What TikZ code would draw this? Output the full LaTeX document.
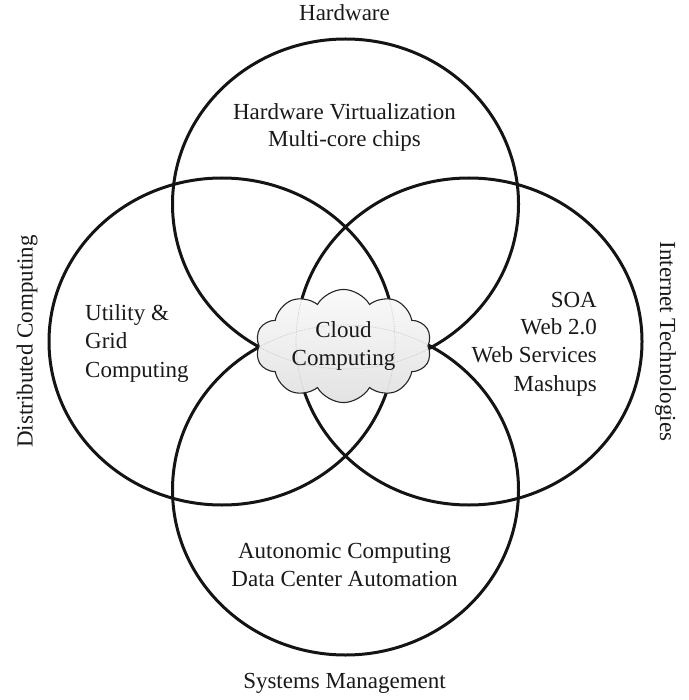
\documentclass[tikz,border=0pt]{standalone}
\usepackage{fontspec}
\setmainfont{Liberation Serif}
\usetikzlibrary{shapes.symbols}
\begin{document}
\begin{tikzpicture}[x=1pt,y=-1pt,
  ring/.style={draw=black!92, line width=3pt},
  faint/.style={draw=gray!45, densely dotted, line width=0.7pt},
  lbl/.style={font=\fontsize{23}{28}\selectfont, text=black!90, inner sep=0pt, anchor=base},
  cloudbox/.style={shape=cloud, cloud puffs=10, cloud puff arc=120, aspect=1.6,
    draw=black!85, line width=1.1pt, top color=gray!4, bottom color=gray!22,
    inner sep=0pt, minimum width=176, minimum height=110, align=center,
    font=\fontsize{23}{28}\selectfont, text=black!90},
]
\useasboundingbox (0,0) rectangle (688,700);
\coordinate (ct) at (345.5,204);
\coordinate (cb) at (345.5,490);
\coordinate (cl) at (222,341.5);
\coordinate (cr) at (469,341.5);
\draw[ring] (ct) ellipse [x radius=173, y radius=165];
\draw[ring] (cb) ellipse [x radius=173, y radius=165];
\draw[ring] (cl) ellipse [x radius=173, y radius=163.5];
\draw[ring] (cr) ellipse [x radius=173, y radius=163.5];
\node[cloudbox, path picture={
    \draw[faint] (ct) ellipse [x radius=173, y radius=165];
    \draw[faint] (cb) ellipse [x radius=173, y radius=165];
    \draw[faint] (cl) ellipse [x radius=173, y radius=163.5];
    \draw[faint] (cr) ellipse [x radius=173, y radius=163.5];
  }] (cloud) at (343.5,346) {Cloud\\Computing};
\node[lbl] (hw) at (344.5,21) {Hardware};
\node[lbl] (hv1) at (344.5,120) {Hardware Virtualization};
\node[lbl] (hv2) at (344.5,147) {Multi-core chips};
\node[lbl] (ac1) at (344.5,558) {Autonomic Computing};
\node[lbl] (ac2) at (344.5,586) {Data Center Automation};
\node[lbl] (sm) at (344.5,688) {Systems Management};
\node[lbl, anchor=base west] (ug1) at (85,320) {Utility \&};
\node[lbl, anchor=base west] (ug2) at (85,348.5) {Grid};
\node[lbl, anchor=base west] (ug3) at (85,377) {Computing};
\node[lbl, anchor=base east] (s1) at (597,307) {SOA};
\node[lbl, anchor=base east] (s2) at (597,334.5) {Web 2.0};
\node[lbl, anchor=base east] (s3) at (597,362.5) {Web Services};
\node[lbl, anchor=base east] (s4) at (597,391) {Mashups};
\node[lbl, rotate=90] (dc) at (32.5,341.5) {Distributed Computing};
\node[lbl, rotate=-90] (it) at (660,341.5) {Internet Technologies};
\end{tikzpicture}
\end{document}
